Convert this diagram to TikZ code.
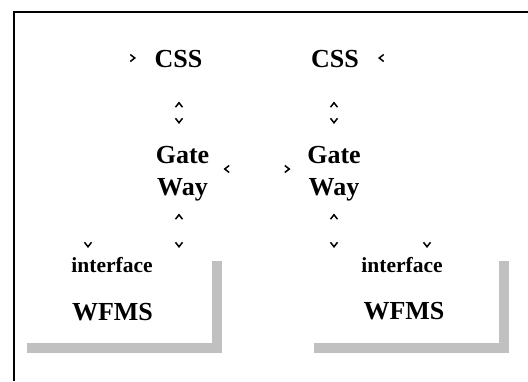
\documentclass[tikz,border=0pt]{standalone}
\usepackage{fontspec}
\setmainfont{Liberation Serif}
\usetikzlibrary{arrows.meta}

\definecolor{shadowgray}{RGB}{192,192,192}

\tikzset{
  label/.style={font=\bfseries\fontsize{26}{32}\selectfont, inner sep=0pt, anchor=base, align=center},
  small/.style={font=\bfseries\fontsize{21.5}{26}\selectfont, inner sep=0pt, anchor=base},
  hidden shaft/.style={>={Straight Barb[length=4.5pt, width=7pt]}, dash pattern=on 0pt off 2000pt, line cap=butt, line width=1.5pt},
  % connectors whose shafts stay hidden: only the tips are drawn
  link/.style={hidden shaft, <->},
  linkone/.style={hidden shaft, ->},
  frame/.style={line width=2.6pt, line cap=butt},
  shadow/.style={line width=10pt, draw=shadowgray, line cap=butt, line join=miter}
}

\begin{document}
\begin{tikzpicture}[x=1pt, y=-1pt]
\useasboundingbox (0,0) rectangle (528,381);

% outer frame (top and left edges)
\draw[frame] (528,12) -- (14,12) -- (14,381);

% shadows of the two WFMS boxes
\draw[shadow] (27,348) -- (217,348) -- (217,261);
\draw[shadow] (314,348) -- (504,348) -- (504,261);

% labels (base of a two-line label is its last line)
\node[label] (cssL) at (178.5,67) {CSS};
\node[label] (cssR) at (335,67) {CSS};
\node[label] (gateL) at (182.5,195) {Gate\\Way};
\node[label] (gateR) at (334,195) {Gate\\Way};
\node[small] (ifL) at (112,272) {interface};
\node[small] (ifR) at (402,272) {interface};
\node[label] (wfmsL) at (112.5,320) {WFMS};
\node[label] (wfmsR) at (404,319.5) {WFMS};

% tip positions
\coordinate (inL) at (124,58);
\coordinate (inLtip) at (136,58);
\coordinate (inR) at (390,58);
\coordinate (inRtip) at (378,58);
\coordinate (cgLup) at (179,101.5);
\coordinate (cgLdn) at (179,124);
\coordinate (cgRup) at (334,101.5);
\coordinate (cgRdn) at (334,124);
\coordinate (ggL) at (223.5,169);
\coordinate (ggR) at (290.5,169);
\coordinate (giLup) at (179,213.5);
\coordinate (giLdn) at (179,248);
\coordinate (giRup) at (334,213.5);
\coordinate (giRdn) at (334,248);
\coordinate (ifLsrc) at (88,236);
\coordinate (ifLtip) at (88,248);
\coordinate (ifRsrc) at (427,236);
\coordinate (ifRtip) at (427,248);

% connectors
\draw[linkone] (inL) -- (inLtip);
\draw[linkone] (inR) -- (inRtip);
\draw[link] (cgLup) -- (cgLdn);
\draw[link] (cgRup) -- (cgRdn);
\draw[link] (ggL) -- (ggR);
\draw[link] (giLup) -- (giLdn);
\draw[link] (giRup) -- (giRdn);
\draw[linkone] (ifLsrc) -- (ifLtip);
\draw[linkone] (ifRsrc) -- (ifRtip);
\end{tikzpicture}
\end{document}
